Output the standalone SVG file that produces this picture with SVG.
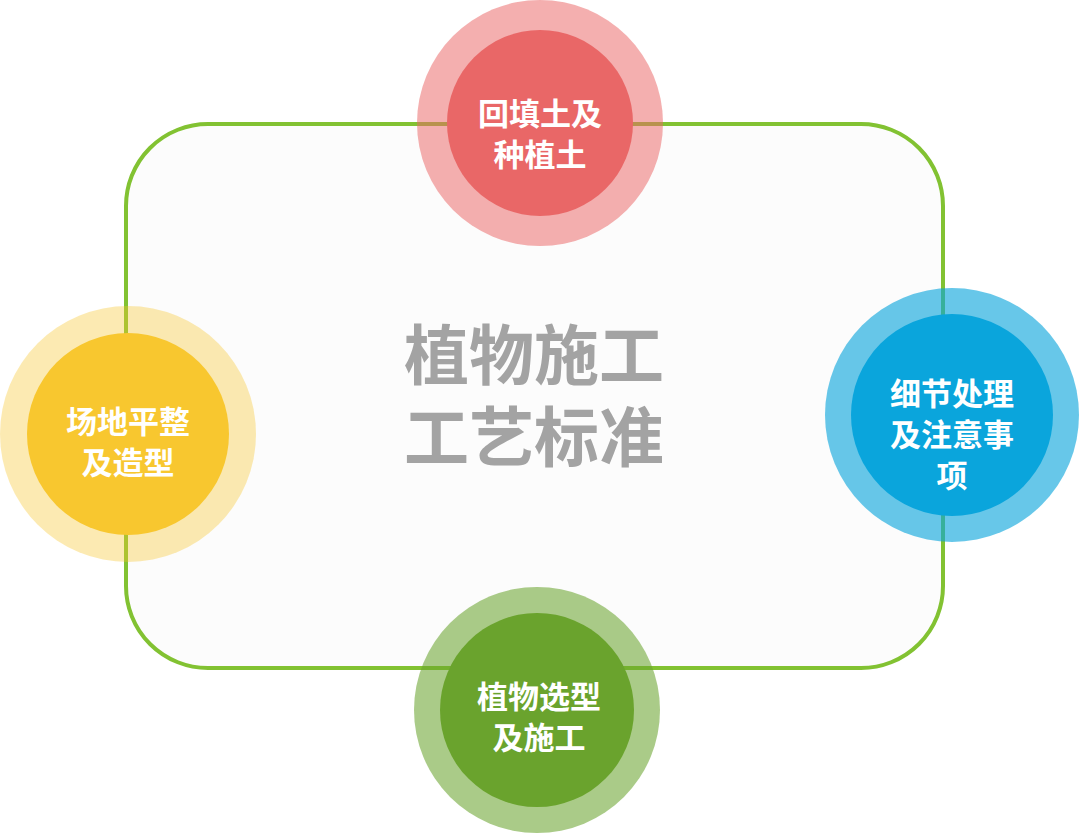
<svg xmlns="http://www.w3.org/2000/svg" width="1080" height="833" viewBox="0 0 1080 833">
<style>
.lbl{font-family:"Noto Sans CJK SC","Noto Sans",sans-serif;font-weight:700;font-size:31px;fill:#ffffff;text-anchor:middle}
.title{font-family:"Noto Sans CJK SC","Noto Sans",sans-serif;font-weight:700;font-size:65px;fill:#a3a3a3;text-anchor:middle}
</style>
<rect width="1080" height="833" fill="#ffffff"/>
<g id="connectors">
<rect x="126" y="124" width="817" height="544" rx="82" ry="82" fill="#fcfcfc" stroke="#82c232" stroke-width="4"/>
</g>
<g id="title">
<text class="title" x="534" y="379"><tspan x="534" y="379">植物施工</tspan><tspan x="534" y="461">工艺标准</tspan></text>
</g>
<g id="node-top">
<circle cx="540" cy="123" r="123" fill="#e96666" fill-opacity="0.52"/>
<circle cx="540" cy="123" r="93" fill="#e96767"/>
<text class="lbl" x="540" y="125">回填土及</text>
<text class="lbl" x="540" y="166">种植土</text>
</g>
<g id="node-left">
<circle cx="128" cy="434" r="128" fill="#f8c52f" fill-opacity="0.37"/>
<circle cx="128" cy="434" r="101" fill="#f8c72f"/>
<text class="lbl" x="128" y="433">场地平整</text>
<text class="lbl" x="128" y="474">及造型</text>
</g>
<g id="node-right">
<circle cx="952" cy="415" r="127" fill="#0aa5dc" fill-opacity="0.62"/>
<circle cx="952" cy="415" r="101" fill="#0aa5dc"/>
<text class="lbl" x="952" y="405">细节处理</text>
<text class="lbl" x="952" y="446">及注意事</text>
<text class="lbl" x="952" y="487">项</text>
</g>
<g id="node-bottom">
<circle cx="537" cy="710" r="123" fill="#6aa32d" fill-opacity="0.57"/>
<circle cx="537" cy="710" r="97" fill="#6aa32d"/>
<text class="lbl" x="539" y="708">植物选型</text>
<text class="lbl" x="539" y="749">及施工</text>
</g>
</svg>
